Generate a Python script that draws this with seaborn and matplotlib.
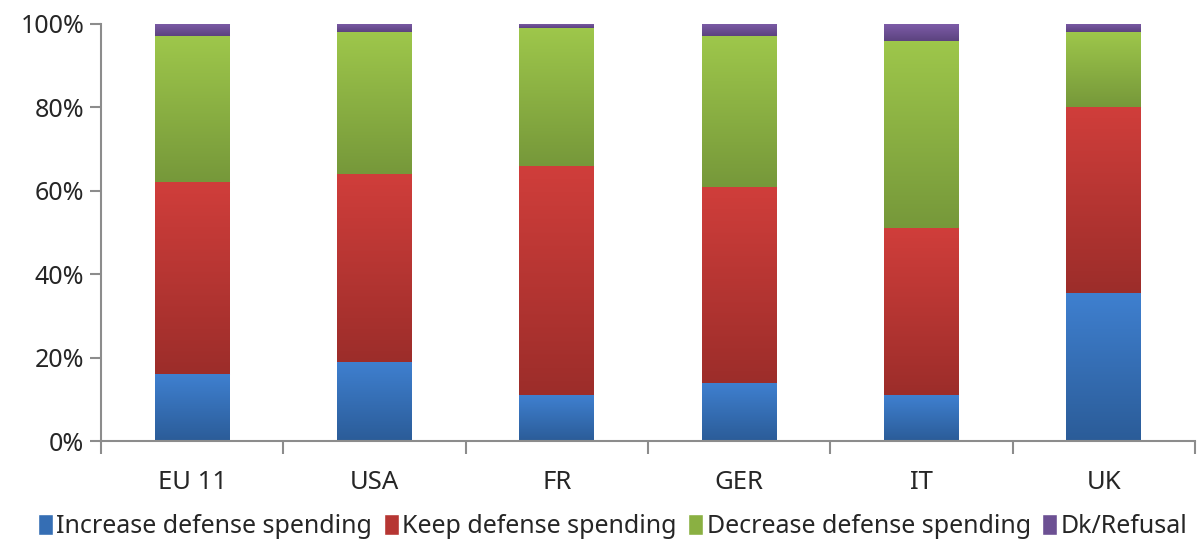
import matplotlib
matplotlib.use("Agg")
import matplotlib.pyplot as plt
import matplotlib.colors as mcolors
from matplotlib.patches import Patch
from matplotlib.ticker import FixedLocator, PercentFormatter
import numpy as np
import pandas as pd
import seaborn as sns

countries = ["EU 11", "USA", "FR", "GER", "IT", "UK"]
increase = [16, 19, 11, 14, 11, 35.5]
keep = [46, 45, 55, 47, 40, 44.5]
decrease = [35, 34, 33, 36, 45, 18]
dk_refusal = [3, 2, 1, 3, 4, 2]

series_names = [
    "Increase defense spending",
    "Keep defense spending",
    "Decrease defense spending",
    "Dk/Refusal",
]
series_values = [increase, keep, decrease, dk_refusal]
# (top of segment, bottom of segment) for the Excel-like gradient
series_colors = [
    ("#3f80d0", "#2b5c98"),
    ("#d03e3b", "#9c2d2a"),
    ("#9ec74b", "#76983a"),
    ("#7d5ca8", "#5c437f"),
]

sns.set_style("white")
plt.rcParams["font.family"] = ["Noto Sans", "DejaVu Sans"]

df = pd.DataFrame(dict(zip(series_names, series_values)), index=countries)
tops = df.cumsum(axis=1)
bottoms = tops - df

fig = plt.figure(figsize=(11.99, 5.40), dpi=100)
ax = fig.add_axes([0.0842, 0.1833, 0.9125, 0.7723])

bar_width = 0.41
# draw cumulative totals from the top series down, so lower series sit in front
for name, (c_top, c_bot) in reversed(list(zip(series_names, series_colors))):
    sns.barplot(x=countries, y=tops[name].values, color=c_top, width=bar_width,
                saturation=1, ax=ax, zorder=1)

# paint each segment with its own vertical gradient
grad = np.linspace(0, 1, 256).reshape(-1, 1)
for i, name in enumerate(series_names):
    cmap = mcolors.LinearSegmentedColormap.from_list(
        name, [series_colors[i][1], series_colors[i][0]])
    for j in range(len(countries)):
        ax.imshow(grad, cmap=cmap, origin="lower", aspect="auto", zorder=2,
                  extent=[j - bar_width / 2, j + bar_width / 2,
                          bottoms.iloc[j, i], tops.iloc[j, i]])

ax.set_xlim(-0.5, len(countries) - 0.5)
ax.set_ylim(0, 100)
ax.yaxis.set_major_locator(FixedLocator(range(0, 101, 20)))
ax.yaxis.set_major_formatter(PercentFormatter(decimals=0))
ax.xaxis.set_minor_locator(FixedLocator(np.arange(-0.5, len(countries), 1.0)))

spine_color = "#8c8c8c"
for side in ["top", "right"]:
    ax.spines[side].set_visible(False)
for side in ["left", "bottom"]:
    ax.spines[side].set_color(spine_color)
    ax.spines[side].set_linewidth(1.5)

ax.tick_params(axis="y", which="major", direction="out", length=8, width=1.5,
               color=spine_color, labelsize=18, pad=4, left=True)
ax.tick_params(axis="x", which="major", length=0, labelsize=18.5, pad=21)
ax.tick_params(axis="x", which="minor", direction="out", length=9, width=1.5,
               color=spine_color, bottom=True)
ax.set_xlabel("")
ax.set_ylabel("")

handles = [Patch(facecolor=mcolors.to_hex(np.mean([mcolors.to_rgb(a), mcolors.to_rgb(b)], axis=0)))
           for a, b in series_colors]
fig.legend(handles, series_names, loc="lower center", bbox_to_anchor=(0.511, -0.04),
           ncol=4, frameon=False, fontsize=18, handlelength=0.6, handleheight=0.9,
           handletextpad=0.15, columnspacing=0.45)

fig.savefig("out.png", dpi=100)
